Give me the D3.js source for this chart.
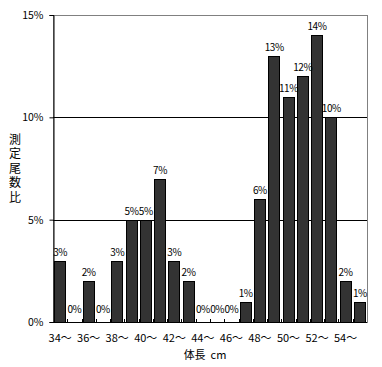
<!DOCTYPE html>
<html>
<head>
<meta charset="utf-8">
<script src="https://cdn.jsdelivr.net/npm/d3@7"></script>
<style>
  body { margin: 0; background: #fff; }
  text { font-family: "Noto Sans CJK JP", "DejaVu Sans", sans-serif; font-size: 11px; fill: #000; }
</style>
</head>
<body>
<div id="chart"></div>
<script>
// 体長ごとの測定尾数比
var lengths = d3.range(34, 56);
var ratios = [3, 0, 2, 0, 3, 5, 5, 7, 3, 2, 0, 0, 0, 1, 6, 13, 11, 12, 14, 10, 2, 1];
var yTicks = [0, 5, 10, 15];
var yTitle = '測定尾数比';
var xTitle = '体長\u00a0\u00a0cm';

var width = 382;
var height = 367;
var margin = { top: 15, right: 15, bottom: 45, left: 53 };
var w = width - margin.left - margin.right;
var h = height - margin.top - margin.bottom;

var svg = d3.select('#chart').append('svg')
  .attr('width', width)
  .attr('height', height);

var g = svg.append('g')
  .attr('transform', 'translate(' + margin.left + ',' + margin.top + ')');

var xScale = d3.scaleBand()
  .domain(lengths)
  .range([0, w])
  .paddingInner(0.16)
  .paddingOuter(0.08);

var yScale = d3.scaleLinear()
  .domain([0, 15])
  .range([h, 0]);

// 枠（上と右はグレー）
g.append('rect')
  .attr('x', 0.5).attr('y', 0.5)
  .attr('width', w).attr('height', h)
  .attr('fill', 'none')
  .attr('stroke', '#808080');

// グリッド
g.selectAll('.grid')
  .data([5, 10])
  .enter()
  .append('line')
  .attr('x1', 0).attr('x2', w)
  .attr('y1', function(d) { return Math.round(yScale(d)) + 0.5; })
  .attr('y2', function(d) { return Math.round(yScale(d)) + 0.5; })
  .attr('stroke', '#000');

// y軸
var yaxis = d3.axisLeft(yScale)
  .tickValues(yTicks)
  .tickSize(4)
  .tickPadding(6)
  .tickFormat(function(d) { return d + '%'; });

g.append('g')
  .attr('transform', 'translate(0.5,0)')
  .call(yaxis)
  .call(function(s) {
    s.select('.domain').attr('stroke', '#000');
    s.selectAll('text').style('font-size', '10.5px').style('font-family', '"Noto Sans CJK JP", sans-serif');
  });

// 棒
g.selectAll('.bar')
  .data(ratios)
  .enter()
  .append('rect')
  .attr('x', function(d, i) { return Math.round(xScale(lengths[i])) + 0.5; })
  .attr('y', function(d) { return Math.round(yScale(d)) + 0.5; })
  .attr('width', Math.round(xScale.bandwidth()) - 1)
  .attr('height', function(d) { return Math.round(h - yScale(d)); })
  .attr('fill', '#333333')
  .attr('stroke', '#000');

// 値ラベル
g.selectAll('.val')
  .data(ratios)
  .enter()
  .append('text')
  .attr('x', function(d, i) { return xScale(lengths[i]) + xScale.bandwidth() / 2; })
  .attr('y', function(d) { return yScale(d) - (d === 0 ? 9 : 5); })
  .attr('text-anchor', 'middle')
  .style('font-size', '10px')
  .style('letter-spacing', '-0.4px')
  .text(function(d) { return d + '%'; });

// x軸（区切りの目盛は内向き）
var step = xScale.step();
var x0 = xScale(lengths[0]) - xScale.paddingInner() * step / 2;
g.append('line')
  .attr('x1', 0).attr('x2', w)
  .attr('y1', h + 0.5).attr('y2', h + 0.5)
  .attr('stroke', '#000');

g.selectAll('.xtick')
  .data(d3.range(1, lengths.length))
  .enter()
  .append('line')
  .attr('x1', function(i) { return Math.round(x0 + i * step) + 0.5; })
  .attr('x2', function(i) { return Math.round(x0 + i * step) + 0.5; })
  .attr('y1', h).attr('y2', h - 3)
  .attr('stroke', '#000');

g.selectAll('.xlabel')
  .data(lengths.filter(function(d) { return d % 2 === 0; }))
  .enter()
  .append('text')
  .attr('x', function(d) { return xScale(d) + xScale.bandwidth() / 2; })
  .attr('y', h + 20)
  .attr('text-anchor', 'middle')
  .text(function(d) { return d + '～'; });

// 軸タイトル
g.append('text')
  .attr('x', w / 2 - 5)
  .attr('y', h + 37)
  .attr('text-anchor', 'middle')
  .text(xTitle);

svg.append('text')
  .attr('x', 15)
  .attr('y', 133)
  .style('writing-mode', 'vertical-rl')
  .style('text-orientation', 'upright')
  .style('font-size', '12px')
  .style('letter-spacing', '2.5px')
  .text(yTitle);
</script>
</body>
</html>
